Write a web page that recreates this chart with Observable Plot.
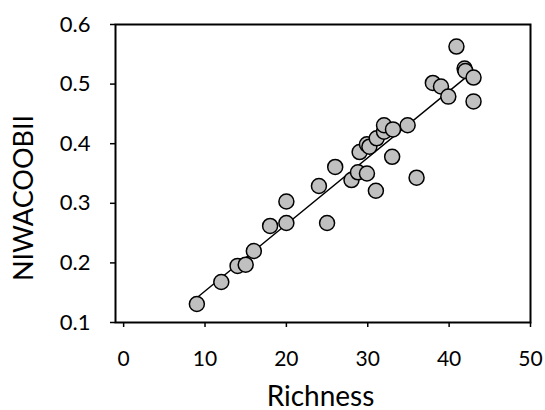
<!DOCTYPE html>
<html>
<head>
<meta charset="utf-8">
<script src="https://cdn.jsdelivr.net/npm/d3@7"></script>
<script src="https://cdn.jsdelivr.net/npm/@observablehq/plot@0.6"></script>
<style>
  html, body { margin: 0; padding: 0; background: #fff; }
  #chart { width: 545px; height: 410px; }
</style>
</head>
<body>
<div id="chart"></div>
<script>
const richness = [9, 12, 14, 15, 16, 18, 20, 20, 24, 25, 26, 28, 28.8, 29, 29.9, 29.9, 30.2, 31, 31.1, 32, 32, 33.1, 33, 34.9, 36, 38, 39, 39.9, 40.9, 41.9, 42, 43, 43];
const niwacoobii = [0.131, 0.168, 0.195, 0.197, 0.220, 0.262, 0.303, 0.267, 0.329, 0.267, 0.361, 0.339, 0.352, 0.386, 0.350, 0.399, 0.395, 0.321, 0.409, 0.420, 0.431, 0.424, 0.378, 0.431, 0.343, 0.502, 0.496, 0.479, 0.563, 0.526, 0.522, 0.511, 0.471];
const xTicks = [0, 10, 20, 30, 40, 50];
const yTicks = [0.1, 0.2, 0.3, 0.4, 0.5, 0.6];
const xTitle = "Richness";
const yTitle = "NIWACOOBII";

const data = richness.map((r, i) => ({richness: r, niwacoobii: niwacoobii[i]}));

const chart = Plot.plot({
  width: 545,
  height: 410,
  marginLeft: 115,
  marginRight: 15,
  marginTop: 24,
  marginBottom: 88,
  x: {domain: [-1, 50]},
  y: {domain: [0.1, 0.6]},
  style: {fontFamily: "Lato", fontSize: "22px", color: "black", background: "white", overflow: "visible"},
  marks: [
    Plot.axisX({ticks: xTicks, tickSize: 5, tickPadding: 24, strokeWidth: 1.5, label: null, fontSize: 21, tickFormat: d => String(d)}),
    Plot.axisY({ticks: yTicks, tickSize: 5, tickPadding: 20, strokeWidth: 1.5, label: null, fontSize: 22, tickFormat: d3.format(".1f")}),
    Plot.linearRegressionY(data, {x: "richness", y: "niwacoobii", ci: 0, stroke: "black", strokeWidth: 1.4}),
    Plot.dot(data, {x: "richness", y: "niwacoobii", r: 7.5, fill: "#c0c0c0", stroke: "black", strokeWidth: 1.5}),
    Plot.frame({stroke: "black", strokeWidth: 2}),
    Plot.text([xTitle], {text: d => d, frameAnchor: "bottom", lineAnchor: "bottom", dx: -2.5, dy: 83, fontSize: 28}),
    Plot.text([yTitle], {text: d => d, frameAnchor: "left", textAnchor: "middle", lineAnchor: "middle", rotate: -90, dx: -91, dy: 24.5, fontSize: 27})
  ]
});
document.getElementById("chart").appendChild(chart);
</script>
</body>
</html>
